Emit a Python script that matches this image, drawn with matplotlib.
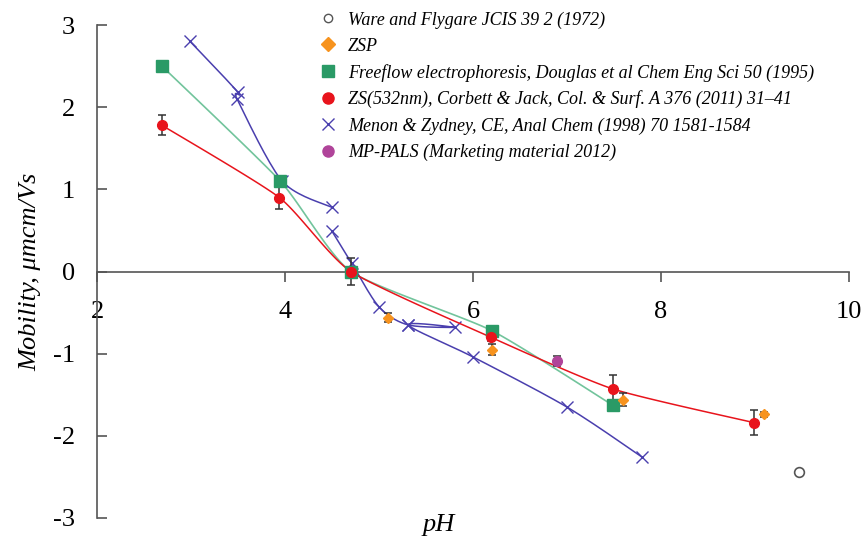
import numpy as np
import matplotlib
matplotlib.use("Agg")
import matplotlib.pyplot as plt
from matplotlib.lines import Line2D

plt.rcParams['font.family'] = ['Liberation Serif', 'DejaVu Serif']

# --- data ---
ware_ph = [9.47]
ware_mob = [-2.44]

zsp_ph = [5.10, 6.20, 7.60, 9.10]
zsp_mob = [-0.56, -0.95, -1.56, -1.74]
zsp_err = [0.05, 0.07, 0.08, 0.03]

free_ph = [2.69, 3.95, 4.70, 6.20, 7.49]
free_mob = [2.50, 1.10, 0.00, -0.72, -1.63]

zs_ph = [2.69, 3.94, 4.70, 6.19, 7.49, 8.99]
zs_mob = [1.78, 0.90, 0.00, -0.80, -1.43, -1.84]
zs_err = [0.12, 0.14, 0.17, 0.05, 0.17, 0.15]

# nan = break in the line
menon_ph = [2.99, 3.50, 3.49, 3.97, 4.50, np.nan, 4.50, 4.71, 5.00, 5.31, 5.81, 5.31, 6.00, 7.00, 7.80]
menon_mob = [2.80, 2.18, 2.10, 1.10, 0.78, np.nan, 0.49, 0.10, -0.43, -0.65, -0.68, -0.65, -1.04, -1.65, -2.26]

pals_ph = [6.89]
pals_mob = [-1.09]
pals_err = [0.06]

labels = [
    "Ware and Flygare JCIS 39 2 (1972)",
    "ZSP",
    "Freeflow electrophoresis, Douglas et al Chem Eng Sci 50 (1995)",
    "ZS(532nm), Corbett & Jack, Col. & Surf. A 376 (2011) 31\u201341",
    "Menon & Zydney, CE, Anal Chem (1998) 70 1581-1584",
    "MP-PALS (Marketing material 2012)",
]

c_blue = "#4a3fae"
c_green = "#2a9a66"
c_green_line = "#72c49c"
c_red = "#e8141c"
c_orange = "#f7931e"
c_purple = "#b0449a"
c_err = "#333333"


def smooth(xs, ys, k=10, n=20):
    # lightly smoothed line (bezier through the points), nan splits the line
    xs = np.asarray(xs, float)
    ys = np.asarray(ys, float)
    outx, outy = [], []
    breaks = np.where(np.isnan(xs))[0]
    starts = [0] + list(breaks + 1)
    ends = list(breaks) + [len(xs)]
    for a, b in zip(starts, ends):
        px, py = xs[a:b], ys[a:b]
        m = len(px)
        for i in range(m - 1):
            p0 = (px[max(i - 1, 0)], py[max(i - 1, 0)])
            p1 = (px[i], py[i])
            p2 = (px[i + 1], py[i + 1])
            p3 = (px[min(i + 2, m - 1)], py[min(i + 2, m - 1)])
            c1 = (p1[0] + (p2[0] - p0[0]) / k, p1[1] + (p2[1] - p0[1]) / k)
            c2 = (p2[0] - (p3[0] - p1[0]) / k, p2[1] - (p3[1] - p1[1]) / k)
            t = np.linspace(0, 1, n)
            bx = (1 - t) ** 3 * p1[0] + 3 * (1 - t) ** 2 * t * c1[0] + 3 * (1 - t) * t ** 2 * c2[0] + t ** 3 * p2[0]
            by = (1 - t) ** 3 * p1[1] + 3 * (1 - t) ** 2 * t * c1[1] + 3 * (1 - t) * t ** 2 * c2[1] + t ** 3 * p2[1]
            outx += list(bx)
            outy += list(by)
        outx.append(np.nan)
        outy.append(np.nan)
    return outx, outy


fig = plt.figure(figsize=(8.65, 5.4), dpi=100)
ax = fig.add_axes([97 / 865, 1 - 518 / 540, (849 - 97) / 865, (518 - 25) / 540])

# Menon
ax.plot(*smooth(menon_ph, menon_mob, k=7), color=c_blue, lw=1.1, zorder=3)
ax.plot(menon_ph, menon_mob, ls='none', marker='x', ms=9, mew=1.0, color=c_blue, zorder=3)

# Freeflow
ax.plot(*smooth(free_ph, free_mob), color=c_green_line, lw=1.2, zorder=2)
ax.plot(free_ph, free_mob, ls='none', marker='s', ms=8.5, color=c_green, zorder=4)

# ZS
ax.errorbar(zs_ph, zs_mob, yerr=zs_err, fmt='none', ecolor=c_err, elinewidth=1.1,
            capsize=3, capthick=1.1, zorder=3)
ax.plot(*smooth(zs_ph, zs_mob), color=c_red, lw=1.1, zorder=3)
ax.plot(zs_ph, zs_mob, ls='none', marker='o', ms=7, color=c_red, zorder=5)

# ZSP
ax.errorbar(zsp_ph, zsp_mob, yerr=zsp_err, fmt='none', ecolor=c_err, elinewidth=1.1,
            capsize=3, capthick=1.1, zorder=3)
ax.plot(zsp_ph, zsp_mob, ls='none', marker='D', ms=5.5, color=c_orange, zorder=5)

# MP-PALS
ax.errorbar(pals_ph, pals_mob, yerr=pals_err, fmt='none', ecolor=c_err, elinewidth=1.1,
            capsize=3, capthick=1.1, zorder=3)
ax.plot(pals_ph, pals_mob, ls='none', marker='o', ms=7, color=c_purple, zorder=5)

# Ware
ax.plot(ware_ph, ware_mob, ls='none', marker='o', ms=7, mfc='white', mec='#555555', mew=1.2, zorder=5)

ax.set_xlim(2, 10)
ax.set_ylim(-3, 3)
ax.set_xticks([2, 4, 6, 8, 10])
ax.set_yticks([-3, -2, -1, 0, 1, 2, 3])
ax.set_yticklabels(['-3', '-2', '-1', '0', '1', '2', '3'])

for s in ['top', 'right']:
    ax.spines[s].set_visible(False)
ax.spines['bottom'].set_position(('data', 0))
ax.spines['left'].set_color('#555555')
ax.spines['bottom'].set_color('#555555')
ax.spines['left'].set_linewidth(1.2)
ax.spines['bottom'].set_linewidth(1.2)

ax.tick_params(axis='x', direction='out', length=7, width=1.2, color='#555555',
               labelsize=19, pad=14)
ax.tick_params(axis='y', direction='in', length=7, width=1.2, color='#555555',
               labelsize=19, pad=16)

ax.set_ylabel("Mobility, \u03bcmcm/Vs", fontsize=19, style='italic', labelpad=8)
fig.text(439 / 865, 1 - 525 / 540, "pH", fontsize=19, style='italic', ha='center', va='center')

handles = [
    Line2D([], [], ls='none', marker='o', ms=6, mfc='white', mec='#555555', mew=1.0),
    Line2D([], [], ls='none', marker='D', ms=7, color=c_orange),
    Line2D([], [], ls='none', marker='s', ms=9, color=c_green),
    Line2D([], [], ls='none', marker='o', ms=8, color=c_red),
    Line2D([], [], ls='none', marker='x', ms=9, mew=1.0, color=c_blue),
    Line2D([], [], ls='none', marker='o', ms=8, color=c_purple),
]
leg = fig.legend(handles, labels, loc='upper left', bbox_to_anchor=(312 / 865, 1 - 4 / 540),
                 frameon=False, prop={'size': 13, 'style': 'italic'},
                 handlelength=1.0, handletextpad=0.6, labelspacing=0.5, borderaxespad=0)

fig.savefig("out.png", dpi=100)
